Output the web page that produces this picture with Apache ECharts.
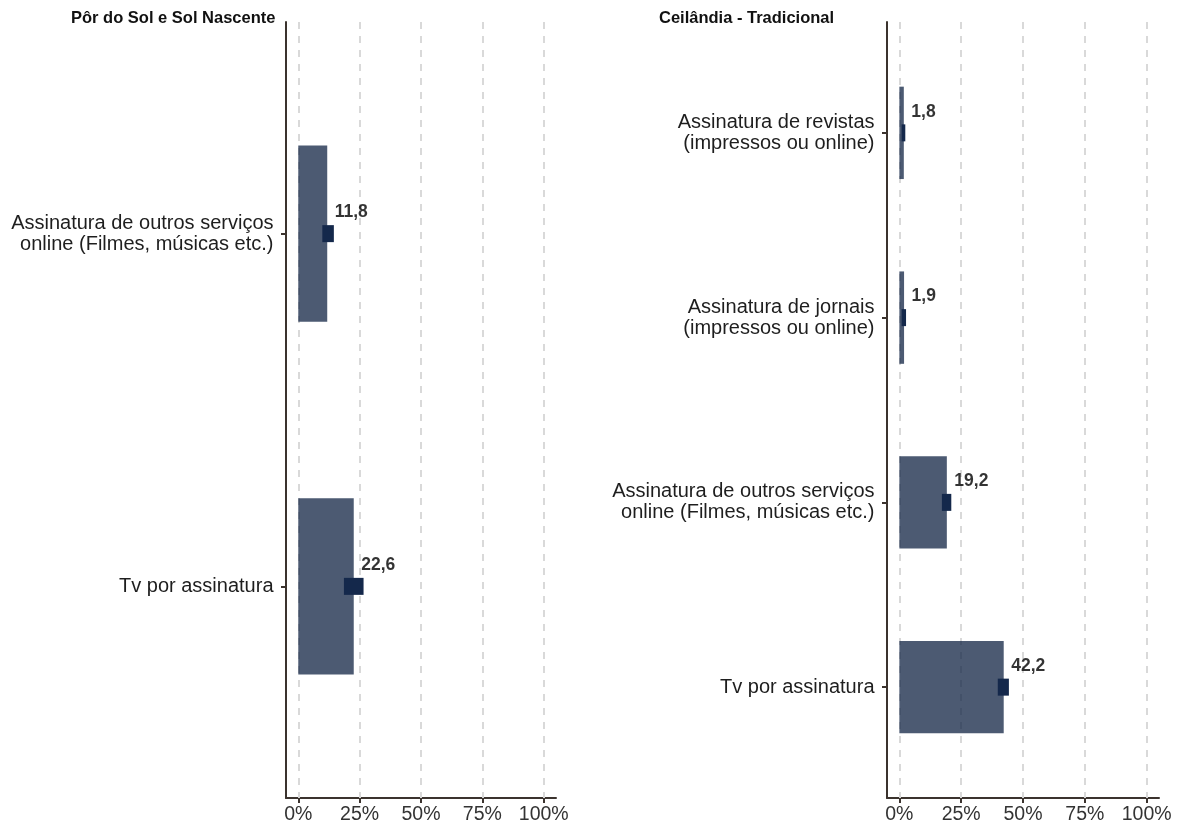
<!DOCTYPE html>
<html>
<head>
<meta charset="utf-8">
<script src="https://cdn.jsdelivr.net/npm/echarts@6/dist/echarts.min.js"></script>
<style>
    html, body { margin: 0; padding: 0; background: #fff; }
    #main { width: 1183px; height: 832px; }
</style>
</head>
<body>
<div id="main"></div>
<script>
// painel esquerdo
var leftTitle = 'Pôr do Sol e Sol Nascente';
var leftCats = ['Assinatura de outros serviços\nonline (Filmes, músicas etc.)', 'Tv por assinatura'];
var leftValues = [11.8, 22.6];
var leftLow = [9.8, 18.6];
var leftHigh = [14.5, 26.6];

// painel direito
var rightTitle = 'Ceilândia - Tradicional';
var rightCats = ['Assinatura de revistas\n(impressos ou online)', 'Assinatura de jornais\n(impressos ou online)',
    'Assinatura de outros serviços\nonline (Filmes, músicas etc.)', 'Tv por assinatura'];
var rightValues = [1.8, 1.9, 19.2, 42.2];
var rightLow = [0.9, 0.9, 17.2, 39.8];
var rightHigh = [2.4, 2.7, 21.0, 44.3];

var xTicks = [0, 25, 50, 75, 100];

var font = "'Liberation Sans', Arial, sans-serif";
var axisColor = '#3b332e';

function xAxisFor(gridIndex) {
    return {
        type: 'value', gridIndex: gridIndex, min: -5, max: 105,
        axisLine: {show: true, onZero: false, lineStyle: {color: axisColor, width: 2}},
        axisTick: {show: true, customValues: xTicks, length: 5, lineStyle: {color: axisColor, width: 2}},
        axisLabel: {customValues: xTicks, margin: 7, color: '#333', fontSize: 19.5, fontFamily: font,
            formatter: function (v) { return v + '%'; }},
        splitLine: {show: false}
    };
}

function yAxisFor(gridIndex, cats) {
    var idx = cats.map(function (c, i) { return i + 1; });
    return {
        type: 'value', gridIndex: gridIndex, min: 0.4, max: cats.length + 0.6, inverse: true,
        axisLine: {show: true, onZero: false, lineStyle: {color: axisColor, width: 2}},
        axisTick: {show: true, customValues: idx, length: 5, lineStyle: {color: axisColor, width: 2}},
        axisLabel: {customValues: idx, margin: 12.5, color: '#1e1e1e', fontSize: 20, fontFamily: font,
            lineHeight: 21, align: 'right', padding: [3, 0, 0, 0],
            formatter: function (v) { return cats[Math.round(v) - 1]; }},
        splitLine: {show: false}
    };
}

function pairs(values) {
    return values.map(function (v, i) { return [v, i + 1]; });
}

function barSeries(axisIndex, values) {
    return {
        type: 'custom', xAxisIndex: axisIndex, yAxisIndex: axisIndex, z: 2,
        renderItem: function (params, api) {
            var y = api.value(1);
            var start = api.coord([0, y]);
            var end = api.coord([api.value(0), y]);
            var h = api.size([0, 0.5])[1];
            return {
                type: 'rect',
                shape: {x: start[0], y: start[1] - h / 2, width: end[0] - start[0], height: h},
                style: {fill: 'rgba(22,40,72,0.77)'}
            };
        },
        data: pairs(values),
        markLine: {
            silent: true, symbol: 'none', z: 1, label: {show: false},
            lineStyle: {color: '#d9d9d9', width: 2, type: [7, 7]},
            data: xTicks.map(function (t) { return {xAxis: t}; })
        }
    };
}

function rangeSeries(axisIndex, low, high) {
    return {
        type: 'custom', xAxisIndex: axisIndex, yAxisIndex: axisIndex, z: 3,
        renderItem: function (params, api) {
            var y = api.value(2);
            var a = api.coord([api.value(0), y]);
            var b = api.coord([api.value(1), y]);
            return {
                type: 'rect',
                shape: {x: a[0], y: a[1] - 8.5, width: b[0] - a[0], height: 17},
                style: {fill: '#14284b'}
            };
        },
        data: low.map(function (l, i) { return [l, high[i], i + 1]; })
    };
}

function labelSeries(axisIndex, values) {
    return {
        type: 'scatter', xAxisIndex: axisIndex, yAxisIndex: axisIndex, z: 4,
        symbolSize: 1, itemStyle: {color: 'rgba(0,0,0,0)'}, silent: true,
        label: {
            show: true, position: 'right', distance: 7, offset: [0, -21],
            color: '#000', fontWeight: 'bold', fontSize: 17.5, fontFamily: font,
            formatter: function (p) { return String(p.value[0]).replace('.', ','); }
        },
        data: pairs(values)
    };
}

var myChart = echarts.init(document.getElementById('main'));
var option = {
    backgroundColor: '#fff',
    animation: false,
    title: [
        {text: leftTitle, left: 71, top: 10, padding: 0,
            textStyle: {fontSize: 16.5, fontWeight: 'bold', color: '#111', fontFamily: font}},
        {text: rightTitle, left: 659, top: 10, padding: 0,
            textStyle: {fontSize: 16.5, fontWeight: 'bold', color: '#111', fontFamily: font}}
    ],
    grid: [
        {left: 286, width: 270, top: 22, height: 776},
        {left: 887, width: 272, top: 22, height: 776}
    ],
    xAxis: [xAxisFor(0), xAxisFor(1)],
    yAxis: [yAxisFor(0, leftCats), yAxisFor(1, rightCats)],
    series: [
        barSeries(0, leftValues), rangeSeries(0, leftLow, leftHigh), labelSeries(0, leftValues),
        barSeries(1, rightValues), rangeSeries(1, rightLow, rightHigh), labelSeries(1, rightValues)
    ]
};
myChart.setOption(option);
</script>
</body>
</html>
